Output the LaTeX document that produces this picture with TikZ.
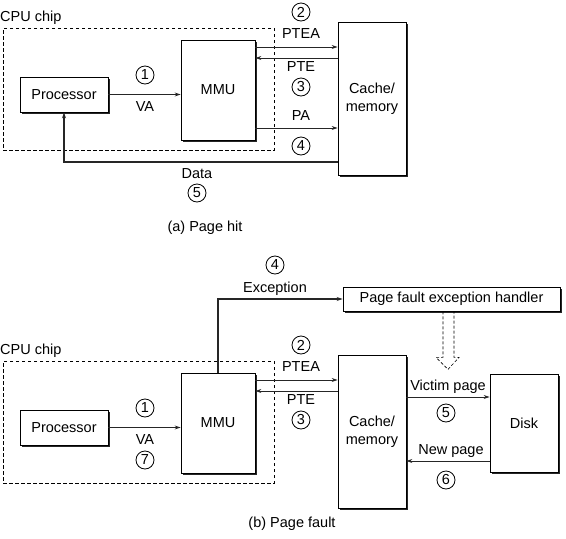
\documentclass[tikz,border=0pt]{standalone}
\usepackage{fontspec}
\setmainfont{Liberation Sans}
\usetikzlibrary{arrows.meta, shadows, positioning}

\begin{document}
\begin{tikzpicture}[x=1pt, y=-1pt,
    font=\fontsize{14.5}{18}\selectfont,
    box/.style={rectangle, draw, fill=white, line width=0.8pt, drop shadow={shadow xshift=2.2pt, shadow yshift=-2.2pt, opacity=1, fill=black!85}},
    chipbox/.style={rectangle, draw, line width=0.7pt, dash pattern=on 3.5pt off 2.5pt},
    lbl/.style={inner sep=0pt, text height=1.5ex, text depth=.25ex},
    stepnum/.style={circle, draw, line width=0.8pt, minimum size=18pt, inner sep=0pt},
    conn/.style={line width=0.9pt, black!85, -{Stealth[length=6pt, width=4pt]}}]
    \useasboundingbox (0,0) rectangle (566,539);

    % (a) Page hit -- nodes
    \node (chipA) [chipbox, minimum width=271pt, minimum height=122pt] at (138.5,89) {};
    \node (chiplblA) [lbl, anchor=west] at (0,18) {CPU chip};
    \node (procA) [box, minimum width=88pt, minimum height=35pt] at (64,94.5) {Processor};
    \node (mmuA) [box, minimum width=74pt, minimum height=100pt] at (218,90) {MMU};
    \node (cacheA) [box, minimum width=68pt, minimum height=153pt, align=center] at (372,98.5) {Cache/\\memory};

    % (a) labels
    \node (s1A) [stepnum] at (145,75) {1};
    \node (vaA) [lbl] at (145,108) {VA};
    \node (s2A) [stepnum] at (301,12) {2};
    \node (pteaA) [lbl] at (301,35) {PTEA};
    \node (pteA) [lbl] at (301,68) {PTE};
    \node (s3A) [stepnum] at (301,87) {3};
    \node (paA) [lbl] at (301,117) {PA};
    \node (s4A) [stepnum] at (301,146) {4};
    \node (dataA) [lbl] at (197,175) {Data};
    \node (s5A) [stepnum] at (197,193) {5};
    \node (capA) [lbl] at (205,228) {(a) Page hit};

    % (a) flows
    \draw[conn] (procA.east) -- (procA.east -| mmuA.west);
    \draw[conn] (mmuA.east |- 0,47) -- (cacheA.west |- 0,47);
    \draw[conn] (cacheA.west |- 0,58) -- (mmuA.east |- 0,58);
    \draw[conn] (mmuA.east |- 0,128) -- (cacheA.west |- 0,128);
    \draw[conn, line width=1.1pt] (cacheA.west |- 0,162) -| (procA.south);

    % (b) Page fault -- nodes
    \node (chipB) [chipbox, minimum width=271pt, minimum height=122pt] at (138.5,422) {};
    \node (chiplblB) [lbl, anchor=west] at (0,351) {CPU chip};
    \node (procB) [box, minimum width=88pt, minimum height=35pt] at (64,427.5) {Processor};
    \node (mmuB) [box, minimum width=74pt, minimum height=100pt] at (218,423) {MMU};
    \node (cacheB) [box, minimum width=68pt, minimum height=153pt, align=center] at (372,431.5) {Cache/\\memory};
    \node (disk) [box, minimum width=68pt, minimum height=98pt] at (524,423) {Disk};
    \node (handler) [box, minimum width=217pt, minimum height=24pt] at (451.5,299) {Page fault exception handler};

    % (b) labels
    \node (s1B) [stepnum] at (145,408) {1};
    \node (vaB) [lbl] at (145,441) {VA};
    \node (s7B) [stepnum] at (145,460) {7};
    \node (s2B) [stepnum] at (301,345) {2};
    \node (pteaB) [lbl] at (301,368) {PTEA};
    \node (pteB) [lbl] at (301,401) {PTE};
    \node (s3B) [stepnum] at (301,420) {3};
    \node (s4B) [stepnum] at (275,265) {4};
    \node (excB) [lbl] at (275,289) {Exception};
    \node (victim) [lbl] at (448,387) {Victim page};
    \node (s5B) [stepnum] at (446,413) {5};
    \node (newpg) [lbl] at (451,451) {New page};
    \node (s6B) [stepnum] at (446,480) {6};
    \node (capB) [lbl] at (292,524) {(b) Page fault};

    % (b) flows
    \draw[conn] (procB.east) -- (procB.east -| mmuB.west);
    \draw[conn] (mmuB.east |- 0,380) -- (cacheB.west |- 0,380);
    \draw[conn] (cacheB.west |- 0,391) -- (mmuB.east |- 0,391);
    \draw[conn, line width=1.1pt] (mmuB.north) |- (handler.west);
    \draw[conn] (cacheB.east |- 0,397) -- (disk.west |- 0,397);
    \draw[conn] (disk.west |- 0,461) -- (cacheB.east |- 0,461);

    % handler to disk (hollow dashed arrow)
    \draw[line width=0.6pt, dash pattern=on 3pt off 2pt] ([xshift=-8.5pt]handler.south) -- ++(0,46) -- ++(-7,0) -- ++(12,12) -- ++(11,-12) -- ++(-5,0) -- ++(0,-46);

\end{tikzpicture}
\end{document}
